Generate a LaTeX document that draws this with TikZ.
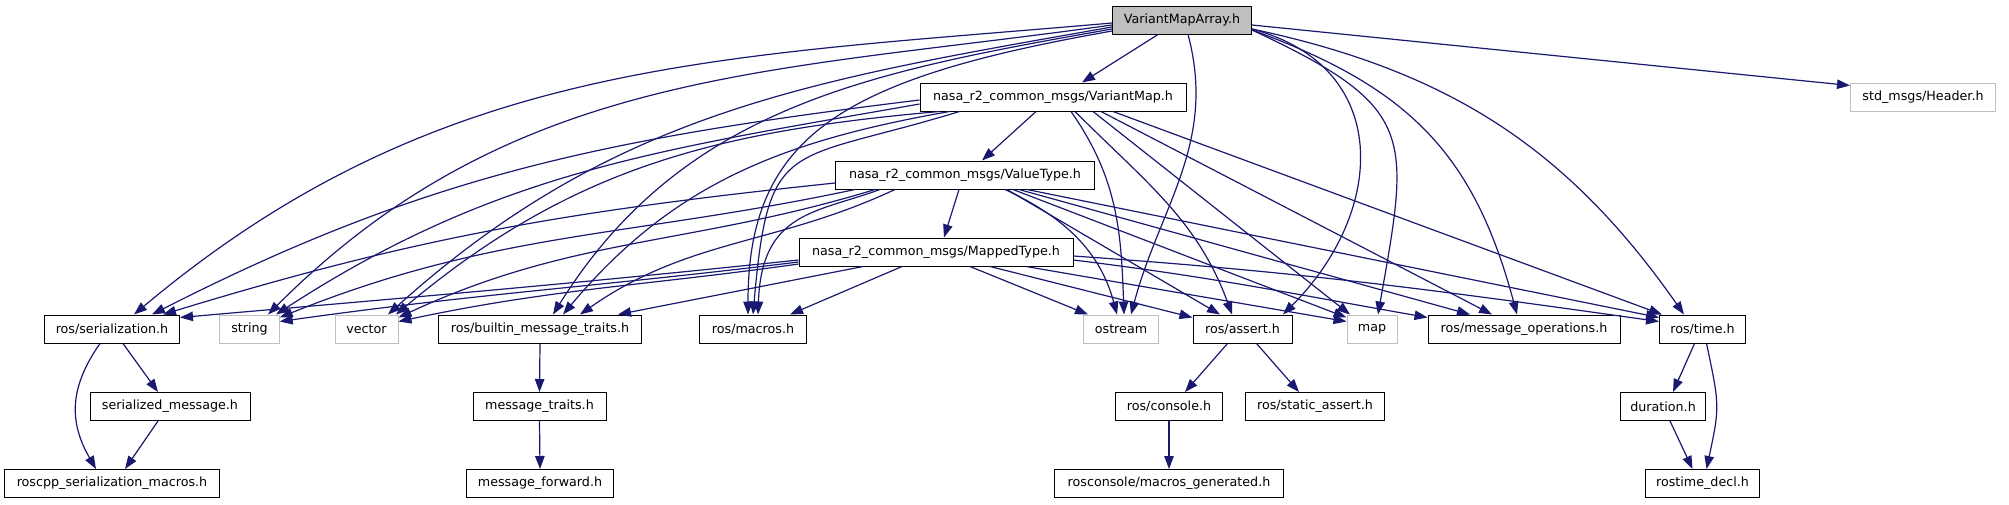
\documentclass[tikz,border=0pt]{standalone}
\usepackage{fontspec}
\setmainfont{DejaVu Sans}
\usetikzlibrary{arrows.meta}
\definecolor{edgeblue}{HTML}{191970}
\definecolor{boxgray}{HTML}{BFBFBF}

\begin{document}
\begin{tikzpicture}[x=1pt, y=1pt,
    box/.style={draw=black, line width=1pt, fill=white, rectangle, minimum height=28pt, inner sep=0pt, font=\fontsize{12.7}{15}\selectfont},
    extbox/.style={box, draw=boxgray},
    dep/.style={draw=edgeblue, line width=1.2pt, -{Triangle[length=13pt, width=9.5pt]}}]
    \useasboundingbox (0,0) rectangle (2009,-504);

    \node[box, fill=boxgray, minimum width=139pt] (vma) at (1182,-20) {VariantMapArray.h};
    \node[box, minimum width=266pt] (vm) at (1053,-97) {nasa\_r2\_common\_msgs/VariantMap.h};
    \node[box, minimum width=259pt] (vt) at (965,-175) {nasa\_r2\_common\_msgs/ValueType.h};
    \node[box, minimum width=274pt] (mt) at (936,-252) {nasa\_r2\_common\_msgs/MappedType.h};
    \node[extbox, minimum width=145pt] (hdr) at (1923,-97) {std\_msgs/Header.h};

    \node[box, minimum width=135pt] (ser) at (112,-329) {ros/serialization.h};
    \node[extbox, minimum width=59.5pt] (str) at (249.5,-329) {string};
    \node[extbox, minimum width=63pt] (vec) at (366.5,-329) {vector};
    \node[box, minimum width=203pt] (bmt) at (540,-329) {ros/builtin\_message\_traits.h};
    \node[box, minimum width=107pt] (mac) at (753,-329) {ros/macros.h};
    \node[extbox, minimum width=75.5pt] (ost) at (1121,-329) {ostream};
    \node[box, minimum width=99pt] (ast) at (1242.5,-329) {ros/assert.h};
    \node[extbox, minimum width=50pt] (map) at (1372,-329) {map};
    \node[box, minimum width=192pt] (mop) at (1524,-329) {ros/message\_operations.h};
    \node[box, minimum width=86pt] (tim) at (1702.5,-329) {ros/time.h};

    \node[box, minimum width=160pt] (sms) at (170,-406.5) {serialized\_message.h};
    \node[box, minimum width=133pt] (mtr) at (539.5,-406.5) {message\_traits.h};
    \node[box, minimum width=107pt] (con) at (1169,-406.5) {ros/console.h};
    \node[box, minimum width=139pt] (sta) at (1315,-406.5) {ros/static\_assert.h};
    \node[box, minimum width=85.5pt] (dur) at (1663,-406.5) {duration.h};

    \node[box, minimum width=215pt] (rsm) at (112,-483.5) {roscpp\_serialization\_macros.h};
    \node[box, minimum width=146.5pt] (mfw) at (540,-483.5) {message\_forward.h};
    \node[box, minimum width=228.5pt] (rmg) at (1169,-483.5) {rosconsole/macros\_generated.h};
    \node[box, minimum width=114pt] (rtd) at (1702.5,-483.5) {rostime\_decl.h};

    \draw[dep] ([xshift=-24]vma.south) -- ([xshift=29]vm.north);
    \draw[dep] ([yshift=-3]vma.west) to[out=185,in=40] ([xshift=22]ser.north);
    \draw[dep] ([yshift=-5]vma.west) to[out=188,in=45] ([xshift=18.5]str.north);
    \draw[dep] ([yshift=-7]vma.west) to[out=190,in=42] ([xshift=21.5]vec.north);
    \draw[dep] ([yshift=-9]vma.west) to[out=190,in=58] ([xshift=13]bmt.north);
    \draw[dep] ([yshift=-11]vma.west) to[out=190,in=90,out looseness=1.5] ([xshift=-5]mac.north);
    \draw[dep] ([xshift=6]vma.south) to[out=-75,in=75] ([xshift=10]ost.north);
    \draw[dep] ([yshift=-9]vma.east) to[out=-15,in=45,looseness=1.3] ([xshift=40.5]ast.north);
    \draw[dep] ([yshift=-10]vma.east) to[out=-25,in=80,looseness=1.5] ([xshift=6]map.north);
    \draw[dep] ([yshift=-10]vma.east) to[out=-20,in=105,looseness=1.1] ([xshift=-7]mop.north);
    \draw[dep] ([yshift=-9]vma.east) to[out=-12,in=125] ([xshift=-18.5]tim.north);
    \draw[dep] ([yshift=-5]vma.east) -- ([yshift=-3]hdr.north west);

    \draw[dep] ([xshift=-17]vm.south) -- ([xshift=17]vt.north);
    \draw[dep] ([yshift=-3]vm.west) to[out=187,in=27] ([xshift=40]ser.north);
    \draw[dep] ([yshift=-7]vm.west) to[out=190,in=33] ([xshift=26.5]str.north);
    \draw[dep] ([xshift=20]vm.south west) to[out=185,in=40] ([xshift=29.5]vec.north);
    \draw[dep] ([xshift=30]vm.south west) to[out=190,in=50] ([xshift=23]bmt.north);
    \draw[dep] ([xshift=40]vm.south west) to[out=197,in=85,looseness=1.6] (mac.north);
    \draw[dep] ([xshift=18]vm.south) to[out=-55,in=92] ([xshift=3]ost.north);
    \draw[dep] ([xshift=22]vm.south) to[out=-45,in=110] ([xshift=-10.5]ast.north);
    \draw[dep] ([xshift=40]vm.south) -- ([xshift=-22]map.north);
    \draw[dep] ([xshift=48]vm.south) -- ([xshift=-32]mop.north);
    \draw[dep] ([xshift=60]vm.south) -- ([xshift=-40.5]tim.north);

    \draw[dep] ([xshift=-6]vt.south) -- ([xshift=8]mt.north);
    \draw[dep] ([yshift=-8]vt.west) to[out=186,in=17] ([xshift=51]ser.north);
    \draw[dep] ([xshift=20]vt.south west) to[out=192,in=22] ([yshift=-3]str.north east);
    \draw[dep] ([xshift=40]vt.south west) to[out=197,in=25] ([yshift=-3]vec.north east);
    \draw[dep] ([xshift=60]vt.south west) to[out=205,in=35] ([xshift=40]bmt.north);
    \draw[dep] ([xshift=45]vt.south west) to[out=200,in=88,in looseness=1.5] ([xshift=5]mac.north);
    \draw[dep] ([xshift=40]vt.south) to[out=-25,in=105] ([xshift=-4]ost.north);
    \draw[dep] ([xshift=42]vt.south) -- ([xshift=-22.5]ast.north);
    \draw[dep] ([xshift=48]vt.south) -- ([yshift=-3]map.north west);
    \draw[dep] ([xshift=54]vt.south) -- ([xshift=-54]mop.north);
    \draw[dep] ([xshift=62]vt.south) -- ([yshift=-3]tim.north west);

    \draw[dep] ([yshift=-8]mt.west) to[out=186,in=5] ([yshift=-3]ser.north east);
    \draw[dep] ([yshift=-10]mt.west) to[out=187,in=8] ([yshift=-7]str.north east);
    \draw[dep] ([yshift=-12]mt.west) to[out=188,in=12] ([yshift=-7]vec.north east);
    \draw[dep] ([xshift=-73]mt.south) -- ([xshift=78]bmt.north);
    \draw[dep] ([xshift=-34]mt.south) -- ([xshift=37]mac.north);
    \draw[dep] ([xshift=34]mt.south) -- ([xshift=-33]ost.north);
    \draw[dep] ([xshift=54]mt.south) -- ([yshift=-3]ast.north west);
    \draw[dep] ([xshift=90]mt.south) -- ([yshift=-7]map.north west);
    \draw[dep] ([yshift=-8]mt.east) to[out=-7,in=170] ([yshift=-3]mop.north west);
    \draw[dep] ([yshift=-4]mt.east) to[out=-4,in=172] ([yshift=-7]tim.north west);

    \draw[dep] ([xshift=11]ser.south) -- ([xshift=-12]sms.north);
    \draw[dep] ([xshift=-12]ser.south) to[out=235,in=120,looseness=1.1] ([xshift=-16]rsm.north);
    \draw[dep] ([xshift=-12]sms.south) -- ([xshift=13]rsm.north);
    \draw[dep] (bmt.south) -- (mtr.north);
    \draw[dep] (mtr.south) -- (mfw.north);
    \draw[dep] ([xshift=-15]ast.south) -- ([xshift=16]con.north);
    \draw[dep] ([xshift=14]ast.south) -- ([xshift=-16]sta.north);
    \draw[dep] (con.south) -- (rmg.north);
    \draw[dep] ([xshift=-8]tim.south) -- ([xshift=10]dur.north);
    \draw[dep] ([xshift=4]tim.south) to[out=-78,in=78,looseness=1.3] ([xshift=4]rtd.north);
    \draw[dep] ([xshift=7]dur.south) -- ([xshift=-10]rtd.north);
\end{tikzpicture}
\end{document}
